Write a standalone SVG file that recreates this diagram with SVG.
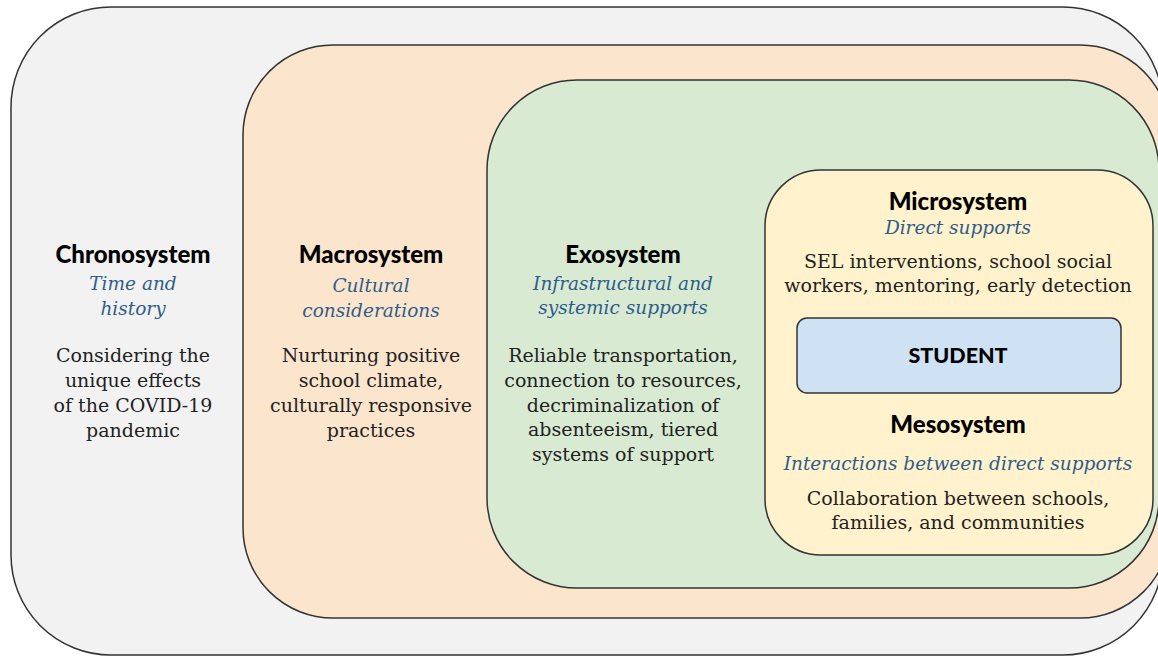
<svg xmlns="http://www.w3.org/2000/svg" width="1158" height="656" viewBox="0 0 1158 656">
<style>
.box{stroke:#333;stroke-width:1.5}
.t{font-family:Lato,"Liberation Sans",sans-serif;font-weight:900;font-size:24px;fill:#000;text-anchor:middle}
.s{font-family:"DejaVu Serif","Liberation Serif",serif;font-style:italic;font-size:18.5px;fill:#2f5d8a;text-anchor:middle}
.b{font-family:"DejaVu Serif","Liberation Serif",serif;font-size:19px;fill:#222;text-anchor:middle}
</style>
<rect width="1158" height="656" fill="#fff"/>
<g id="chronosystem">
<rect class="box" x="11" y="7" width="1152" height="648" rx="100" fill="#f2f2f2"/>
<text class="t" x="133" y="263">Chronosystem</text>
<text class="s" x="133" y="290">Time and</text>
<text class="s" x="133" y="315">history</text>
<text class="b" x="133" y="362">Considering the</text>
<text class="b" x="133" y="387">unique effects</text>
<text class="b" x="133" y="412">of the COVID-19</text>
<text class="b" x="133" y="437">pandemic</text>
</g>
<g id="macrosystem">
<rect class="box" x="243" y="45" width="927" height="573" rx="90" fill="#fce5cd"/>
<text class="t" x="371" y="263">Macrosystem</text>
<text class="s" x="371" y="292">Cultural</text>
<text class="s" x="371" y="317">considerations</text>
<text class="b" x="371" y="362">Nurturing positive</text>
<text class="b" x="371" y="387">school climate,</text>
<text class="b" x="371" y="412">culturally responsive</text>
<text class="b" x="371" y="437">practices</text>
</g>
<g id="exosystem">
<rect class="box" x="487" y="80" width="672" height="508" rx="90" fill="#d9ead3"/>
<text class="t" x="623" y="263">Exosystem</text>
<text class="s" x="623" y="290">Infrastructural and</text>
<text class="s" x="623" y="314">systemic supports</text>
<text class="b" x="623" y="362">Reliable transportation,</text>
<text class="b" x="623" y="387">connection to resources,</text>
<text class="b" x="623" y="412">decriminalization of</text>
<text class="b" x="623" y="436">absenteeism, tiered</text>
<text class="b" x="623" y="461">systems of support</text>
</g>
<g id="microsystem">
<rect class="box" x="765" y="170" width="388" height="385" rx="56" fill="#fff2cc"/>
<text class="t" x="958" y="210">Microsystem</text>
<text class="s" x="958" y="234">Direct supports</text>
<text class="b" x="958" y="268">SEL interventions, school social</text>
<text class="b" x="958" y="292">workers, mentoring, early detection</text>
</g>
<g id="student">
<rect class="box" x="797" y="318" width="324" height="75" rx="10" fill="#cfe2f3"/>
<text class="t" x="958" y="363" style="font-size:21.5px">STUDENT</text>
</g>
<g id="mesosystem">
<text class="t" x="958" y="433">Mesosystem</text>
<text class="s" x="958" y="470">Interactions between direct supports</text>
<text class="b" x="958" y="505">Collaboration between schools,</text>
<text class="b" x="958" y="529">families, and communities</text>
</g>
<g id="connectors"></g>
</svg>
